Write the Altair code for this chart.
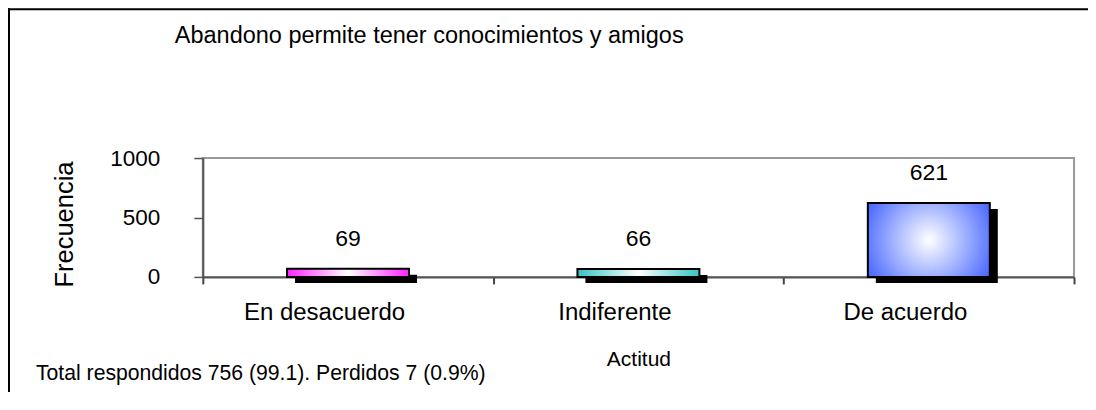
import altair as alt
import pandas as pd

categories = ["En desacuerdo", "Indiferente", "De acuerdo"]
values = [69, 66, 621]
y_ticks = [0, 500, 1000]
title_text = "Abandono permite tener conocimientos y amigos"
note_text = "Total respondidos 756 (99.1). Perdidos 7 (0.9%)"
x_title = "Actitud"
y_title = "Frecuencia"

FONT = "Liberation Sans, Arial, sans-serif"

df = pd.DataFrame({"cat": categories, "val": values})

x_enc = alt.X("cat:N", sort=categories,
              scale=alt.Scale(paddingInner=0, paddingOuter=0),
              axis=alt.Axis(title=x_title, labelAngle=0, labelFontSize=24, labelFont=FONT,
                            labelColor="black", labelPadding=17, labelOffset=-24,
                            tickBand="extent",
                            tickSize=7, tickColor="#444", tickWidth=2,
                            domainColor="#555", domainWidth=2,
                            titleFontSize=21, titleFont=FONT, titleFontWeight="normal",
                            titleColor="black", titleX=436, titleY=83,
                            titleBaseline="middle", titleAlign="center"))
y_enc = alt.Y("val:Q", scale=alt.Scale(domain=[0, 1000], nice=False),
              axis=alt.Axis(title=y_title, values=y_ticks, format="d", grid=False,
                            labelFontSize=22.5,
                            labelFont=FONT, labelColor="black", labelPadding=34,
                            tickSize=9, tickColor="#555", tickWidth=1.5,
                            domainColor="#555", domainWidth=2,
                            titleFontSize=25.5, titleFont=FONT, titleFontWeight="normal",
                            titleColor="black", titleX=-138, titleY=66, titleAngle=270,
                            titleBaseline="middle", titleAlign="center"))

base = alt.Chart(df)

shadow = base.mark_bar(color="black", width=alt.RelativeBandSize(0.42),
                       xOffset=8, x2Offset=8, yOffset=6, y2Offset=6).encode(x=x_enc, y=y_enc)

def grad_lin(c):
    return alt.LinearGradient(gradient="linear", x1=0, x2=1, y1=0, y2=0,
                              stops=[alt.GradientStop(offset=0, color=c),
                                     alt.GradientStop(offset=0.5, color="#ffffff"),
                                     alt.GradientStop(offset=1, color=c)])

blue_grad = alt.RadialGradient(gradient="radial", x1=0.5, y1=0.5, r1=0, x2=0.5, y2=0.5, r2=0.6,
                               stops=[alt.GradientStop(offset=0, color="#ffffff"),
                                      alt.GradientStop(offset=0.45, color="#a9b8ff"),
                                      alt.GradientStop(offset=1, color="#3f5fff")])

fills = [grad_lin("#ff22ff"), grad_lin("#33c4c4"), blue_grad]
bars = []
for cat, f in zip(categories, fills):
    bars.append(base.transform_filter(alt.datum.cat == cat).mark_bar(
        fill=f, stroke="black", strokeWidth=2, width=alt.RelativeBandSize(0.42)
    ).encode(x=x_enc, y=y_enc))

labels = base.mark_text(fontSize=23, font=FONT, color="black", baseline="middle", dy=-30).encode(
    x=x_enc, y=y_enc, text="val:Q")

title = alt.Chart(pd.DataFrame({"t": [title_text]})).mark_text(
    fontSize=23.5, font=FONT, color="black", align="left", baseline="alphabetic").encode(
    text="t:N", x=alt.value(-28), y=alt.value(-115))

note = alt.Chart(pd.DataFrame({"t": [note_text]})).mark_text(
    fontSize=21.2, font=FONT, color="black", align="left", baseline="alphabetic").encode(
    text="t:N", x=alt.value(-167), y=alt.value(222))

frame_df = pd.DataFrame({"a": [0]})
border_top = alt.Chart(frame_df).mark_rule(color="black", strokeWidth=2).encode(
    x=alt.value(-195), x2=alt.value(900), y=alt.value(-149))
border_left = alt.Chart(frame_df).mark_rule(color="black", strokeWidth=2).encode(
    x=alt.value(-194), y=alt.value(-150), y2=alt.value(300))

chart = alt.layer(border_top, border_left, shadow, *bars, labels, title, note).properties(
    width=872, height=119,
    padding={"left": 195, "top": 150, "right": 14, "bottom": 115},
    autosize=alt.AutoSizeParams(type="none"),
    background="white",
).configure_view(stroke="#999", strokeWidth=2)

chart.save("out.html", embed_options={"renderer": "svg", "actions": False})
